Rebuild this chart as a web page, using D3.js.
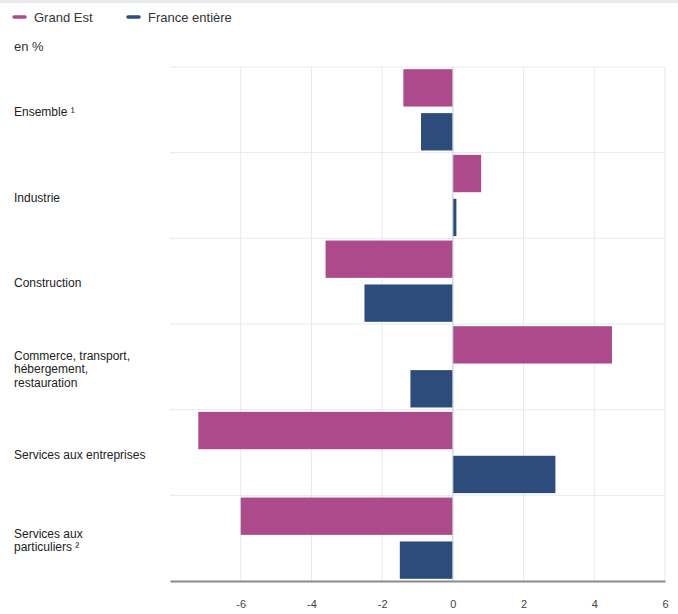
<!DOCTYPE html>
<meta charset="utf-8">
<script src="https://d3js.org/d3.v7.min.js"></script>
<style>
  body { margin: 0; background: #fff; }
  text { font-family: "Liberation Sans", Arial, sans-serif; }
</style>
<div id="chart"></div>
<script>

// categories and values (en %)
var categories = [
  ["Ensemble \u00b9"],
  ["Industrie"],
  ["Construction"],
  ["Commerce, transport,", "h\u00e9bergement,", "restauration"],
  ["Services aux entreprises"],
  ["Services aux", "particuliers \u00b2"]
];
var grandEst = [-1.4, 0.8, -3.6, 4.5, -7.2, -6.0];
var france   = [-0.9, 0.1, -2.5, -1.2, 2.9, -1.5];
var xTicks = [-6, -4, -2, 0, 2, 4, 6];
var seriesNames = ["Grand Est", "France enti\u00e8re"];
var colors = ["#ad4a8b", "#2d4b7b"];

var W = 678, H = 614;
var margin = {top: 67, right: 13, bottom: 33, left: 170};
var width = W - margin.left - margin.right,
    height = H - margin.top - margin.bottom;

var svg = d3.select("#chart").append("svg")
  .attr("width", W)
  .attr("height", H);

// light strip on top
svg.append("rect")
  .attr("x", 0).attr("y", 0).attr("width", W).attr("height", 3)
  .attr("fill", "#e8eaee");

var g = svg.append("g")
  .attr("transform", "translate(" + margin.left + "," + margin.top + ")");

var x = d3.scaleLinear().domain([-8, 6]).range([0, width]);
var y = d3.scaleBand().domain(d3.range(categories.length)).range([0, height]);
var sub = d3.scaleBand().domain([0, 1]).range([0, y.bandwidth()]).paddingInner(0.15).paddingOuter(0.05);

// grid
g.selectAll(".vgrid").data(xTicks).enter().append("line")
  .attr("x1", function(d) { return x(d); }).attr("x2", function(d) { return x(d); })
  .attr("y1", 0).attr("y2", height)
  .attr("stroke", "#e4eaf1").attr("stroke-width", 1);

g.selectAll(".hgrid").data(d3.range(categories.length)).enter().append("line")
  .attr("x1", 0).attr("x2", x(6))
  .attr("y1", function(d) { return y(d); }).attr("y2", function(d) { return y(d); })
  .attr("stroke", "#e4eaf1").attr("stroke-width", 1);

// bars
var series = [grandEst, france];
series.forEach(function(vals, s) {
  g.selectAll(".bar" + s).data(vals).enter().append("rect")
    .attr("x", function(d) { return x(Math.min(0, d)); })
    .attr("width", function(d) { return Math.abs(x(d) - x(0)); })
    .attr("y", function(d, i) { return y(i) + sub(s); })
    .attr("height", sub.bandwidth())
    .attr("fill", colors[s]);
});

// zero line
g.append("line")
  .attr("x1", x(0)).attr("x2", x(0)).attr("y1", 0).attr("y2", height)
  .attr("stroke", "#c9d3df").attr("stroke-width", 1);

// x axis
var xAxis = g.append("g")
  .attr("transform", "translate(0," + height + ")")
  .call(d3.axisBottom(x).tickValues(xTicks).tickSize(0).tickPadding(19)
    .tickFormat(function(d) { return String(d); }));
xAxis.select(".domain").attr("stroke", "#8a8a8a").attr("stroke-width", 2);
xAxis.selectAll("text").style("font-size", "11px").attr("fill", "#444");

// category labels
categories.forEach(function(lines, i) {
  var lh = 13.5;
  var cy = y(i) + y.bandwidth() / 2 - (lines.length - 1) * lh / 2 + 2;
  var t = svg.append("text")
    .attr("x", 14)
    .attr("y", margin.top + cy)
    .style("font-size", "12px")
    .attr("fill", "#222");
  lines.forEach(function(l, k) {
    t.append("tspan").attr("x", 14).attr("dy", k === 0 ? "0.35em" : lh).text(l);
  });
});

// legend
var legX = [13, 127];
seriesNames.forEach(function(n, s) {
  svg.append("line")
    .attr("x1", legX[s] + 1).attr("x2", legX[s] + 12).attr("y1", 17).attr("y2", 17)
    .attr("stroke", colors[s]).attr("stroke-width", 3.5).attr("stroke-linecap", "round");
  svg.append("text")
    .attr("x", legX[s] + 21).attr("y", 17).attr("dy", "0.35em")
    .style("font-size", "13px").attr("fill", "#333")
    .text(n);
});

svg.append("text")
  .attr("x", 14).attr("y", 46).attr("dy", "0.35em")
  .style("font-size", "13px").attr("fill", "#333")
  .text("en %");

</script>
